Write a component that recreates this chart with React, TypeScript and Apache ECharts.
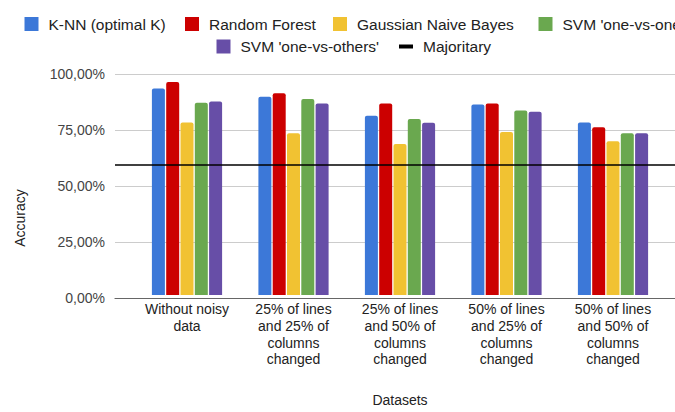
import React, { useEffect, useRef } from "react";
import * as echarts from "echarts";

const categories = [
  "Without noisy\ndata",
  "25% of lines\nand 25% of\ncolumns\nchanged",
  "25% of lines\nand 50% of\ncolumns\nchanged",
  "50% of lines\nand 25% of\ncolumns\nchanged",
  "50% of lines\nand 50% of\ncolumns\nchanged",
];
const seriesNames = [
  "K-NN (optimal K)",
  "Random Forest",
  "Gaussian Naive Bayes",
  "SVM 'one-vs-one'",
  "SVM 'one-vs-others'",
];
const knn = [93.4, 89.7, 81.1, 86.2, 78.1];
const randomForest = [96.4, 91.3, 86.6, 86.7, 75.9];
const gaussianNB = [78.1, 73.2, 68.3, 73.8, 69.6];
const svmOneVsOne = [87.0, 88.7, 79.6, 83.5, 73.2];
const svmOneVsOthers = [87.6, 86.6, 77.9, 82.9, 73.2];
const majoritaryName = "Majoritary";
const majoritary = 59.4;
const yMin = 0;
const yMax = 100;
const yInterval = 25;

const colors = ["#3c78d8", "#cc0000", "#f1c232", "#6aa84f", "#674ea7"];
const FONT = "'Liberation Sans', Arial, sans-serif";

// legend item placement (icon left x, top y)
const legendPos = [
  [19.5, 11],
  [180, 11],
  [328, 11],
  [533.5, 11],
  [211.5, 33.5],
  [394, 33.5],
];

export default function App() {
  const ref = useRef<HTMLDivElement>(null);
  useEffect(() => {
    if (!ref.current) return;
    const chart = echarts.init(ref.current, null, { renderer: "svg" });
    const values = [knn, randomForest, gaussianNB, svmOneVsOne, svmOneVsOthers];
    const legendText = {
      fontSize: 15.5,
      lineHeight: 14,
      color: "#222",
      fontFamily: FONT,
      padding: [0, 0, 0, 5],
    };
    const allNames = [...seriesNames, majoritaryName];
    chart.setOption({
      animation: false,
      textStyle: { fontFamily: FONT },
      legend: allNames.map((name, i) => ({
        data: [name],
        left: legendPos[i][0],
        top: legendPos[i][1],
        width: 400,
        icon: "rect",
        itemWidth: 14,
        itemHeight: name === majoritaryName ? 4 : 14,
        textStyle: legendText,
      })),
      grid: [
        { left: 115, right: 0, top: 74, bottom: 114 },
        { left: 133.75, right: 8.75, top: 74, bottom: 114 },
      ],
      xAxis: [
        {
          type: "value",
          gridIndex: 0,
          min: 0,
          max: 1,
          axisLabel: { show: false },
          axisTick: { show: false },
          splitLine: { show: false },
          axisLine: { show: true, onZero: false, lineStyle: { color: "#666", width: 1.2 } },
        },
        {
          type: "category",
          gridIndex: 1,
          data: categories,
          axisLine: { show: false },
          axisTick: { show: false },
          axisLabel: {
            interval: 0,
            margin: 6,
            fontSize: 14,
            lineHeight: 16.7,
            color: "#222",
            fontFamily: FONT,
          },
          name: "Datasets",
          nameLocation: "middle",
          nameGap: 98,
          nameTextStyle: { fontSize: 14, color: "#222", fontFamily: FONT },
        },
      ],
      yAxis: [
        {
          type: "value",
          gridIndex: 0,
          min: yMin,
          max: yMax,
          interval: yInterval,
          axisLine: { show: false },
          axisTick: { show: false },
          axisLabel: {
            margin: 10,
            fontSize: 14,
            color: "#444",
            fontFamily: FONT,
            formatter: (v: number) => v.toFixed(2).replace(".", ",") + "%",
          },
          splitLine: { lineStyle: { color: "#cccccc" } },
        },
        {
          type: "value",
          gridIndex: 1,
          min: yMin,
          max: yMax,
          interval: yInterval,
          show: false,
          splitLine: { show: false },
        },
      ],
      series: [
        ...seriesNames.map((name, i) => ({
          name,
          type: "bar",
          xAxisIndex: 1,
          yAxisIndex: 1,
          data: values[i],
          barWidth: 13,
          barGap: "10%",
          itemStyle: { color: colors[i], borderRadius: [2, 2, 0, 0] },
        })),
        {
          name: majoritaryName,
          type: "line",
          xAxisIndex: 0,
          yAxisIndex: 0,
          data: [
            [0, majoritary],
            [1, majoritary],
          ],
          symbol: "none",
          z: 5,
          itemStyle: { color: "#000" },
          lineStyle: { color: "#000", width: 1.5 },
        },
      ],
      graphic: [
        {
          type: "text",
          x: 20,
          y: 218,
          rotation: Math.PI / 2,
          style: {
            text: "Accuracy",
            fontSize: 14,
            fill: "#222",
            fontFamily: FONT,
            align: "center",
            verticalAlign: "middle",
          },
        },
      ],
    });
    return () => chart.dispose();
  }, []);
  return (
    <div
      ref={ref}
      style={{ position: "absolute", left: 0, top: 0, width: 675, height: 412 }}
    />
  );
}
